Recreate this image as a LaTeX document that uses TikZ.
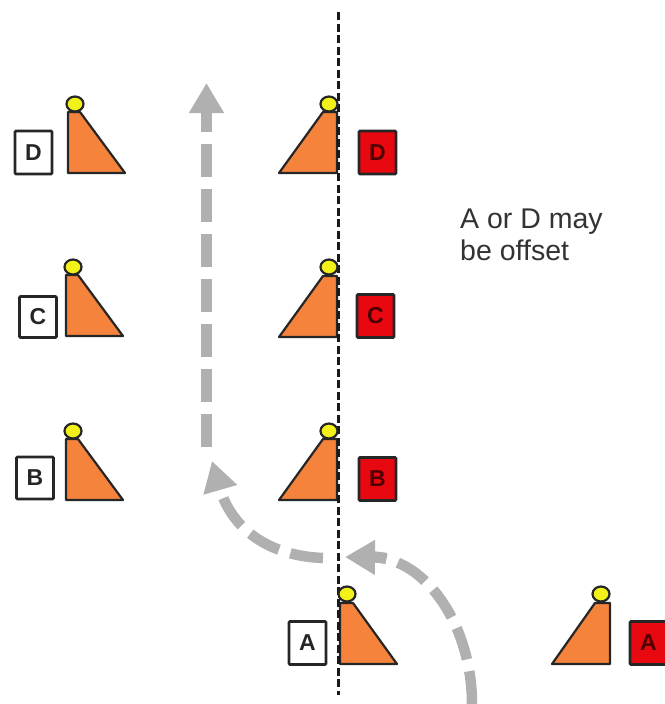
\documentclass[tikz,border=0pt]{standalone}
\usepackage{fontspec}
\setmainfont{Liberation Sans}
\usetikzlibrary{arrows.meta,shapes.geometric}
\definecolor{wedgeorange}{HTML}{F5833C}
\definecolor{pathgrey}{HTML}{B0B0B0}
\definecolor{ballyellow}{HTML}{F2F21A}
\definecolor{boxred}{HTML}{E8080F}
\tikzset{
  wedge/.style={draw=black!85,line width=2.2pt,fill=wedgeorange,line join=round},
  ball/.style={draw=black!85,line width=2.2pt,fill=ballyellow,ellipse,minimum width=17pt,minimum height=15pt,inner sep=0pt},
  whitebox/.style={draw=black!85,line width=2.8pt,fill=white,rounded corners=1pt,minimum width=37pt,inner sep=0pt,font=\bfseries\fontsize{23}{23}\selectfont,text=black!85},
  redbox/.style={draw=black!85,line width=2.8pt,fill=boxred,rounded corners=1pt,minimum width=37pt,inner sep=0pt,font=\bfseries\fontsize{23}{23}\selectfont,text=black!70!red},
  route/.style={draw=pathgrey,line width=10.5pt,dash pattern=on 33pt off 12pt,-{Triangle[length=30pt,width=33pt,fill=pathgrey]}},
  stub/.style={draw=pathgrey,line width=10.5pt},
  axis/.style={draw=black!90,line width=3pt,dash pattern=on 8pt off 3.5pt},
  note/.style={font=\fontsize{28.5}{32}\selectfont,text=black!80,align=left,anchor=north west,inner sep=0pt}
}
\begin{document}
\begin{tikzpicture}[x=1pt,y=-1pt]
\useasboundingbox (0,0) rectangle (664,704);
\fill[white] (0,0) rectangle (664,704);
% routes
\coordinate (r1s) at (472,704);
\coordinate (r1e) at (345,557);
\coordinate (r1a) at (370,556);
\coordinate (r1b) at (386,558);
\coordinate (r2s) at (323,558);
\coordinate (r2e) at (212,461);
\coordinate (r3s) at (206.5,447);
\coordinate (r3e) at (206.5,83);
\coordinate (r3a) at (206.5,132);
\coordinate (r3b) at (206.5,110);
\draw[route] (r1s) .. controls (472,625) and (425,558) .. (r1e);
\draw[stub] (r1b) -- (r1a);
\draw[route] (r2s) .. controls (270,556) and (232,530) .. (r2e);
\draw[route] (r3s) -- (r3e);
\draw[stub] (r3a) -- (r3b);
% left-column wedges
\draw[wedge] (68,173) -- (125,173) -- (80,112) -- (68,112) -- cycle;
\node[ball] (ld) at (75,104) {};
\draw[wedge] (66,336) -- (123,336) -- (78,275) -- (66,275) -- cycle;
\node[ball] (lc) at (73,267) {};
\draw[wedge] (66,500) -- (123,500) -- (78,439) -- (66,439) -- cycle;
\node[ball] (lb) at (73,431) {};
% right-column wedges
\draw[wedge] (279,173) -- (337,173) -- (337,112) -- (323,112) -- cycle;
\draw[wedge] (279,337) -- (337,337) -- (337,276) -- (323,276) -- cycle;
\draw[wedge] (279,500) -- (337,500) -- (337,439) -- (323,439) -- cycle;
\draw[wedge] (340,664) -- (397,664) -- (353,603) -- (340,603) -- cycle;
\draw[wedge] (552,664) -- (610,664) -- (610,603) -- (595,603) -- cycle;
% axis
\coordinate (at) at (338,12);
\coordinate (ab) at (338,695);
\draw[axis] (at) -- (ab);
\node[ball] (rd) at (329,104) {};
\node[ball] (rc) at (329,267) {};
\node[ball] (rb) at (329,431) {};
\node[ball] (ma) at (347,594) {};
\node[ball] (fa) at (601,594) {};
% boxes
\node[whitebox,minimum height=43pt] (wd) at (33.5,152.5) {D};
\node[whitebox,minimum height=41pt] (wc) at (38,317) {C};
\node[whitebox,minimum height=42pt] (wb) at (35,478) {B};
\node[whitebox,minimum height=43pt] (wa) at (307.5,643) {A};
\node[redbox,minimum height=43pt] (bd) at (377.5,152.5) {D};
\node[redbox,minimum height=43pt] (bc) at (375.5,316) {C};
\node[redbox,minimum height=43pt] (bb) at (377.5,479) {B};
\node[redbox,minimum height=43pt] (ba) at (648.5,643) {A};
% note
\node[note] (tx) at (460,209) {A or D may\\be offset};
\end{tikzpicture}
\end{document}
